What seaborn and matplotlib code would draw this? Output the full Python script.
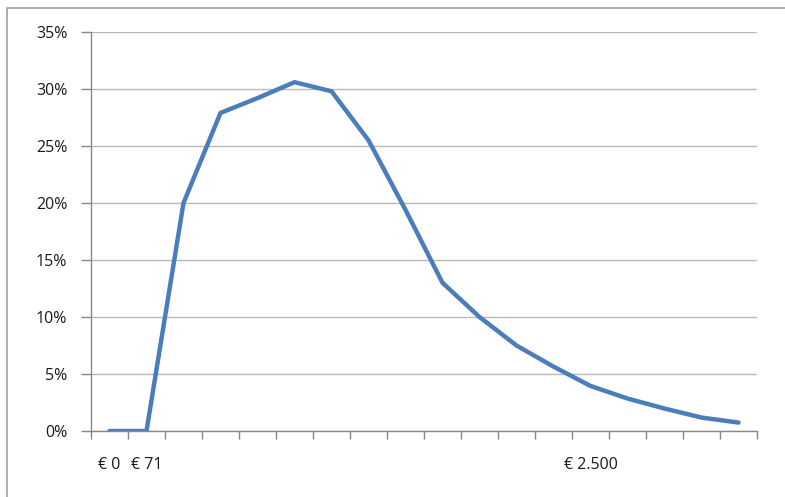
import numpy as np
import pandas as pd
import seaborn as sns
import matplotlib.pyplot as plt
from matplotlib.patches import Rectangle
from matplotlib.ticker import FuncFormatter, FixedLocator

# share per income bracket (percent)
share = [0, 0, 20.0, 27.9, 29.2, 30.6, 29.8, 25.5, 19.4, 13.0,
         10.0, 7.5, 5.65, 3.95, 2.85, 1.97, 1.18, 0.74]
# only a few category labels are shown in the original
cat_labels = ["€ 0", "€ 71", "", "", "", "", "", "", "", "", "", "", "",
              "€ 2.500", "", "", "", ""]
y_ticks = [0, 5, 10, 15, 20, 25, 30, 35]

sns.set_style("white")
plt.rcParams['font.family'] = ['Open Sans', 'DejaVu Sans']

df = pd.DataFrame({"pos": np.arange(len(share)), "share": share})

fig = plt.figure(figsize=(7.85, 4.97), dpi=100)
ax = fig.add_axes([91 / 785, 1 - 431 / 497, 666 / 785, 399 / 497])

sns.lineplot(data=df, x="pos", y="share", ax=ax, color="#4A7EBB",
             linewidth=3.2, solid_capstyle="round", solid_joinstyle="round")

ax.set_xlim(-0.5, len(share) - 0.5)
ax.set_ylim(0, 35)
ax.set_yticks(y_ticks)
ax.yaxis.set_major_formatter(FuncFormatter(lambda v, p: f"{v:.0f}%"))
ax.grid(axis="y", color="#B8B8B8", linewidth=1.0)
ax.set_axisbelow(True)

ax.set_xticks(np.arange(len(share)))
ax.set_xticklabels(cat_labels)
ax.xaxis.set_minor_locator(FixedLocator(np.arange(len(share) + 1) - 0.5))
ax.tick_params(axis="x", which="major", length=0, pad=19, labelsize=11.5, labelcolor="#1a1a1a")
ax.tick_params(axis="x", which="minor", length=6, width=1, color="#888888", direction="out", bottom=True)
ax.tick_params(axis="y", length=7, width=1, color="#888888", direction="out", left=True,
               labelsize=11.5, labelcolor="#1a1a1a", pad=10)

ax.set_xlabel("")
ax.set_ylabel("")
for s in ["top", "right"]:
    ax.spines[s].set_visible(False)
for s in ["left", "bottom"]:
    ax.spines[s].set_color("#888888")
    ax.spines[s].set_linewidth(1)

# outer chart border (cropped on the right and bottom)
fig.patches.append(Rectangle((7 / 785, -0.1), 1.2, 1.1 - 8 / 497, transform=fig.transFigure,
                             fill=False, edgecolor="#A0A0A0", linewidth=1.2))

plt.savefig("out.png", dpi=100)
